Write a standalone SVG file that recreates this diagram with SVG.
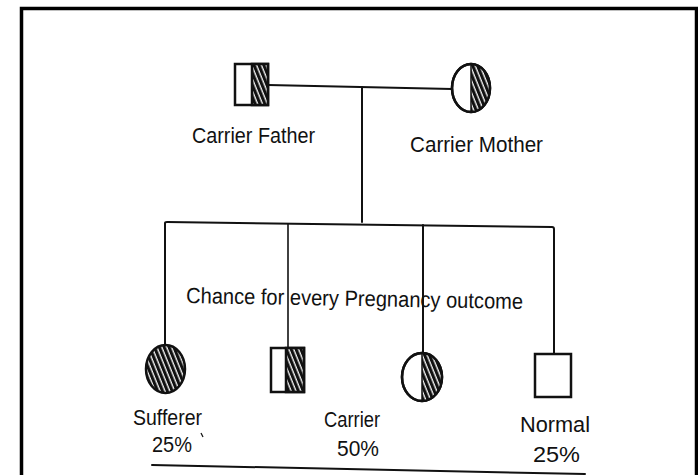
<svg xmlns="http://www.w3.org/2000/svg" width="698" height="475" viewBox="0 0 698 475">
<style>
.lbl{font-family:"Liberation Sans",Arial,sans-serif;font-size:22px;fill:#111;}
.ln{stroke:#111;stroke-width:2;fill:none;stroke-linecap:round;}
.sym{stroke:#111;stroke-width:2.5;fill:#fff;}
</style>
<defs>
<pattern id="hatch" width="4.5" height="10" patternUnits="userSpaceOnUse" patternTransform="rotate(-22)">
<rect width="4.5" height="10" fill="#111"/>
<line x1="2" y1="0" x2="2" y2="10" stroke="#fff" stroke-width="1.3"/>
</pattern>
<clipPath id="cpM"><rect x="471" y="60" width="25" height="60"/></clipPath>
<clipPath id="cpCF"><rect x="422" y="350" width="25" height="60"/></clipPath>
</defs>
<rect x="21.5" y="8.5" width="675" height="480" fill="#fff" stroke="#000" stroke-width="3.5"/>
<g id="connectors">
<path class="ln" d="M268 85 L452 89"/>
<path class="ln" d="M362 87 L362 222"/>
<path class="ln" d="M165 345 L165 223 Q165 222 167 222 L552 227 Q554 227 554 229 L554 354"/>
<path class="ln" d="M288 224 L288 348" style="stroke-width:1.6"/>
<path class="ln" d="M423 225 L423 353"/>
<path class="ln" d="M152 465 L585 474"/>
</g>
<g id="father">
<rect class="sym" x="235" y="64" width="33" height="41"/>
<rect x="252" y="64" width="16" height="41" fill="url(#hatch)" stroke="#111" stroke-width="2.5"/>
<text class="lbl" x="192" y="143" textLength="123" lengthAdjust="spacingAndGlyphs">Carrier Father</text>
</g>
<g id="mother">
<ellipse class="sym" cx="471" cy="88" rx="19" ry="24"/>
<ellipse cx="471" cy="88" rx="19" ry="24" fill="url(#hatch)" clip-path="url(#cpM)"/>
<line x1="471" y1="64" x2="471" y2="112" stroke="#111" stroke-width="1.5"/>
<ellipse cx="471" cy="88" rx="19" ry="24" fill="none" stroke="#111" stroke-width="2.5"/>
<text class="lbl" x="410" y="152" textLength="133" lengthAdjust="spacingAndGlyphs">Carrier Mother</text>
</g>
<g id="caption">
<text class="lbl" x="186" y="303" textLength="337" lengthAdjust="spacingAndGlyphs" transform="rotate(1 186 303)">Chance for every Pregnancy outcome</text>
</g>
<g id="sufferer">
<ellipse cx="165.5" cy="369" rx="19.5" ry="24" fill="url(#hatch)" stroke="#111" stroke-width="2.5"/>
<text class="lbl" x="133" y="425" textLength="69" lengthAdjust="spacingAndGlyphs">Sufferer</text>
<text class="lbl" x="152" y="452" textLength="40" lengthAdjust="spacingAndGlyphs">25%</text>
<path d="M201 433 L203 437" stroke="#111" stroke-width="1.2"/>
</g>
<g id="carrier-son">
<rect class="sym" x="271" y="348" width="33" height="44"/>
<rect x="286" y="348" width="18" height="44" fill="url(#hatch)" stroke="#111" stroke-width="2.5"/>
</g>
<g id="carrier-daughter">
<ellipse class="sym" cx="422" cy="377" rx="20" ry="24"/>
<ellipse cx="422" cy="377" rx="20" ry="24" fill="url(#hatch)" clip-path="url(#cpCF)"/>
<line x1="422" y1="353" x2="422" y2="401" stroke="#111" stroke-width="1.5"/>
<ellipse cx="422" cy="377" rx="20" ry="24" fill="none" stroke="#111" stroke-width="2.5"/>
</g>
<g id="carrier-label">
<text class="lbl" x="324" y="427" textLength="56" lengthAdjust="spacingAndGlyphs">Carrier</text>
<text class="lbl" x="337" y="456" textLength="42" lengthAdjust="spacingAndGlyphs">50%</text>
</g>
<g id="normal">
<rect class="sym" x="535" y="354" width="36" height="43"/>
<text class="lbl" x="520" y="432" textLength="70" lengthAdjust="spacingAndGlyphs">Normal</text>
<text class="lbl" x="533" y="462" textLength="47" lengthAdjust="spacingAndGlyphs">25%</text>
</g>
</svg>
